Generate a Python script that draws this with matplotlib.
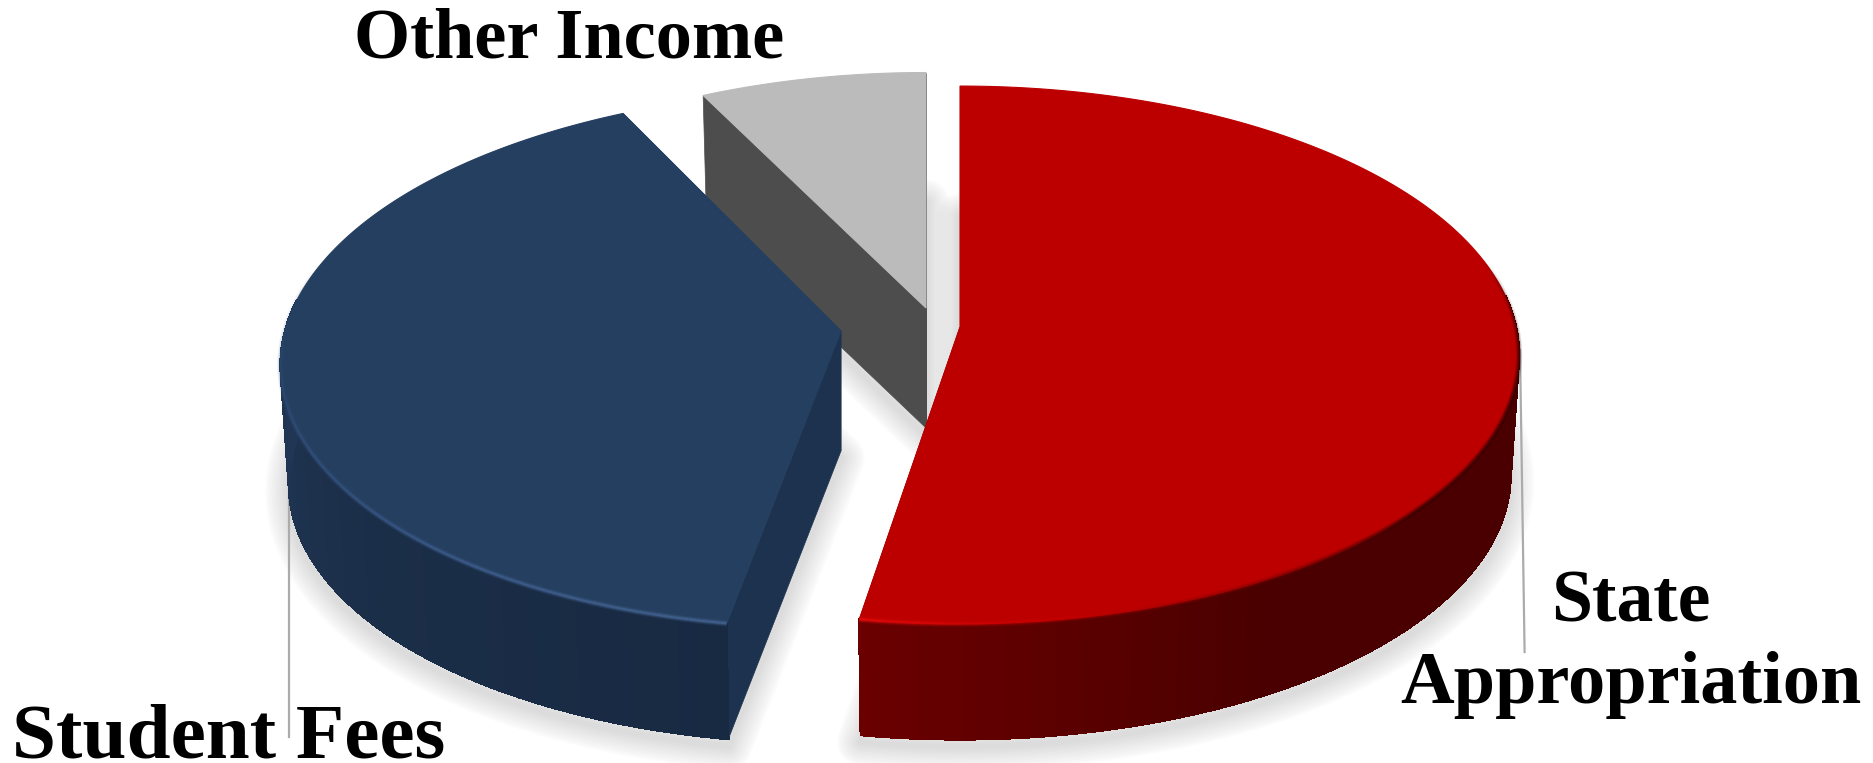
import numpy as np
import matplotlib
matplotlib.use("Agg")
import matplotlib.pyplot as plt
from matplotlib.patches import Polygon
from matplotlib.collections import PolyCollection, LineCollection
from matplotlib.colors import to_rgb

# ---- data ----
categories = ["State\nAppropriation", "Student Fees", "Other Income"]
shares = [52.6, 40.0, 7.4]

# ---- styles / layout (pixels) ----
W, H = 1874, 763
apexes = [(960, 327), (841, 331), (926, 308)]
radii = [1.0, 1.0, 0.975]
lateral = [0.0, -119.0, 0.0]      # sideways offset from the camera axis
top_colors = ["#BC0000", "#253F60", "#BBBBBB"]
wall_colors = ["#3A0000", "#1D324E", "#4D4D4D"]
side_stops = [
    ([0, 100, 150, 189], ["#4C0000", "#4A0000", "#4A0000", "#6A0000"]),
    ([189, 230, 270, 340], ["#182A42", "#1B2E48", "#203654", "#203654"]),
    ([333, 360], ["#4D4D4D", "#4D4D4D"]),
]
rim_stops = [
    ([0, 75, 95, 130, 170, 189], [(.16, 0, 0, .0), (.16, 0, 0, .0), (.16, 0, 0, .85), (.16, 0, 0, .8), (.8, 0, 0, .5), (.92, .05, .05, 1)]),
    ([189, 215, 250, 285], [(.30, .43, .62, .9), (.27, .40, .60, .9), (.20, .32, .50, .8), (.17, .28, .42, 0)]),
    ([333, 360], [(0, 0, 0, 0), (0, 0, 0, 0)]),
]
F, G, K = 556.0, 266.0, 0.104     # perspective of the pie plane
BASE_SCALE, THICK = 0.985, 120.0
FONT = "Liberation Serif"


def project(theta_deg, radius, apex, side, base=False):
    t = np.radians(theta_deg)
    u, v = radius * np.sin(t), radius * np.cos(t)
    w = 1 + K * v
    x = (F * u - K * v * side) / w
    y = -G * v / w
    if base:
        return apex[0] + BASE_SCALE * x, apex[1] + BASE_SCALE * y + THICK
    return apex[0] + x, apex[1] + y


fig = plt.figure(figsize=(W / 100, H / 100), dpi=100, facecolor="white")
ax = fig.add_axes([0, 0, 1, 1])
ax.set_xlim(0, W)
ax.set_ylim(H, 0)
ax.axis("off")

edges = np.cumsum([0] + shares) / sum(shares) * 360
for i in range(len(shares)):
    a0, a1 = edges[i], edges[i + 1]
    apex = apexes[i]
    th = np.linspace(a0, a1, 240)
    tx, ty = project(th, radii[i], apex, lateral[i])
    bx, by = project(th, radii[i], apex, lateral[i], base=True)
    abx, aby = apex[0], apex[1] + THICK
    z = {0: 6, 1: 4, 2: 2}[i]

    # soft shadow from the footprint
    foot = np.column_stack([np.r_[abx, bx], np.r_[aby, by] + 7])
    for lw in np.arange(34, 2, -3):
        ax.add_patch(Polygon(foot, closed=True, fill=False, ec="#8A8A8A", lw=lw,
                             alpha=0.028, joinstyle="round", zorder=1))

    # straight walls
    for ex, ey, bex, bey in ((tx[0], ty[0], bx[0], by[0]), (tx[-1], ty[-1], bx[-1], by[-1])):
        ax.add_patch(Polygon([(apex[0], apex[1]), (ex, ey), (bex, bey), (abx, aby)],
                             closed=True, fc=wall_colors[i], ec=wall_colors[i], lw=.5, zorder=z))

    # outer wall as shaded strips (front part only)
    stops, cols = side_stops[i]
    rgb = np.array([to_rgb(c) for c in cols])
    mid = (th[:-1] + th[1:]) / 2
    strip_cols = np.column_stack([np.interp(mid, stops, rgb[:, k]) for k in range(3)])
    front = np.where(np.cos(np.radians(mid)) < 0.12)[0]
    if len(front):
        quads = [[(tx[j], ty[j]), (tx[j + 1], ty[j + 1]), (bx[j + 1], by[j + 1]), (bx[j], by[j])]
                 for j in front]
        ax.add_collection(PolyCollection(quads, facecolors=strip_cols[front], edgecolors=strip_cols[front],
                                         linewidths=1.0, antialiaseds=False, zorder=z + .1))

    # top face
    ax.add_patch(Polygon(np.column_stack([np.r_[apex[0], tx], np.r_[apex[1], ty]]), closed=True,
                         fc=top_colors[i], ec=top_colors[i], lw=.8, zorder=z + .2))

    # soft rim highlight / shade along the upper edge
    stops, rc = rim_stops[i]
    rc = np.array(rc)
    seg_cols = np.column_stack([np.interp(mid, stops, rc[:, k]) for k in range(4)])
    segs = [[(tx[j], ty[j]), (tx[j + 1], ty[j + 1])] for j in range(len(mid))]
    for lw, f in ((4.5, .18), (3, .3), (1.6, .55)):
        c = seg_cols.copy()
        c[:, 3] *= f
        ax.add_collection(LineCollection(segs, colors=c, linewidths=lw, capstyle="butt", zorder=z + .3))

# leader lines
ax.plot([289, 289], [487, 737], color="#ABABAB", lw=1.6, zorder=1.5)
ax.plot([1520, 1524.6], [350, 652], color="#ABABAB", lw=1.6, zorder=1.5)

# labels
txt = dict(family=FONT, weight="bold", color="black", va="baseline", zorder=10)
ax.text(569, 58, categories[2], ha="center", fontsize=52, **txt)
ax.text(228.5, 757, categories[1], ha="center", fontsize=57, **txt)
first, second = categories[0].split("\n")
ax.text(1631, 622, first, ha="center", fontsize=53, **txt)
ax.text(1631, 703, second, ha="center", fontsize=53.5, **txt)

fig.savefig("out.png", dpi=100, facecolor="white")
